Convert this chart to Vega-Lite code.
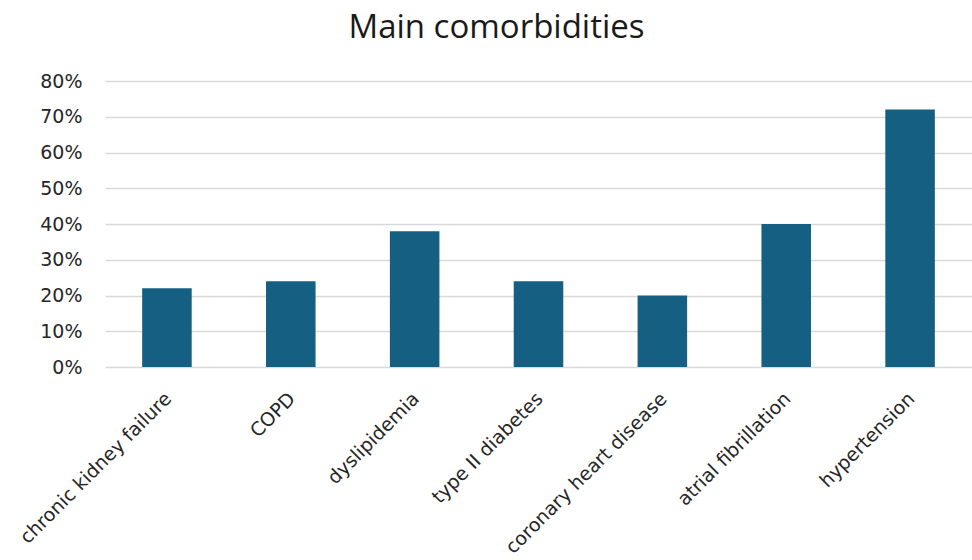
{
  "$schema": "https://vega.github.io/schema/vega-lite/v6.json",
  "autosize": {"type": "none"},
  "padding": {"left": 105, "top": 81, "right": 0, "bottom": 193},
  "width": 867,
  "height": 286,
  "background": "white",
  "title": {"text": "Main comorbidities", "fontSize": 33, "font": "Open Sans", "fontWeight": "normal", "color": "#1a1a1a", "anchor": "middle", "dx": -42, "offset": 27},
  "data": {"values": [
    {"condition": "chronic kidney failure", "pct": 0.22},
    {"condition": "COPD", "pct": 0.24},
    {"condition": "dyslipidemia", "pct": 0.38},
    {"condition": "type II diabetes", "pct": 0.24},
    {"condition": "coronary heart disease", "pct": 0.20},
    {"condition": "atrial fibrillation", "pct": 0.40},
    {"condition": "hypertension", "pct": 0.72}
  ]},
  "mark": {"type": "bar", "color": "#156082"},
  "encoding": {
    "x": {"field": "condition", "type": "nominal", "sort": null, "title": null,
      "scale": {"paddingInner": 0.6, "paddingOuter": 0.3},
      "axis": {"labelAngle": -45, "labelFontSize": 19, "labelFont": "DejaVu Sans", "labelColor": "#262626", "labelLimit": 0, "ticks": false, "domain": false, "labelPadding": 22, "labelOffset": -5}},
    "y": {"field": "pct", "type": "quantitative", "title": null,
      "scale": {"domain": [0, 0.8]},
      "axis": {"format": ".0%", "values": [0,0.1,0.2,0.3,0.4,0.5,0.6,0.7,0.8], "labelFontSize": 19, "labelFont": "DejaVu Sans", "labelColor": "#262626", "ticks": false, "domain": false, "gridColor": "#d9d9d9", "gridWidth": 1.5, "labelPadding": 23}}
  },
  "config": {"view": {"stroke": null}}
}
